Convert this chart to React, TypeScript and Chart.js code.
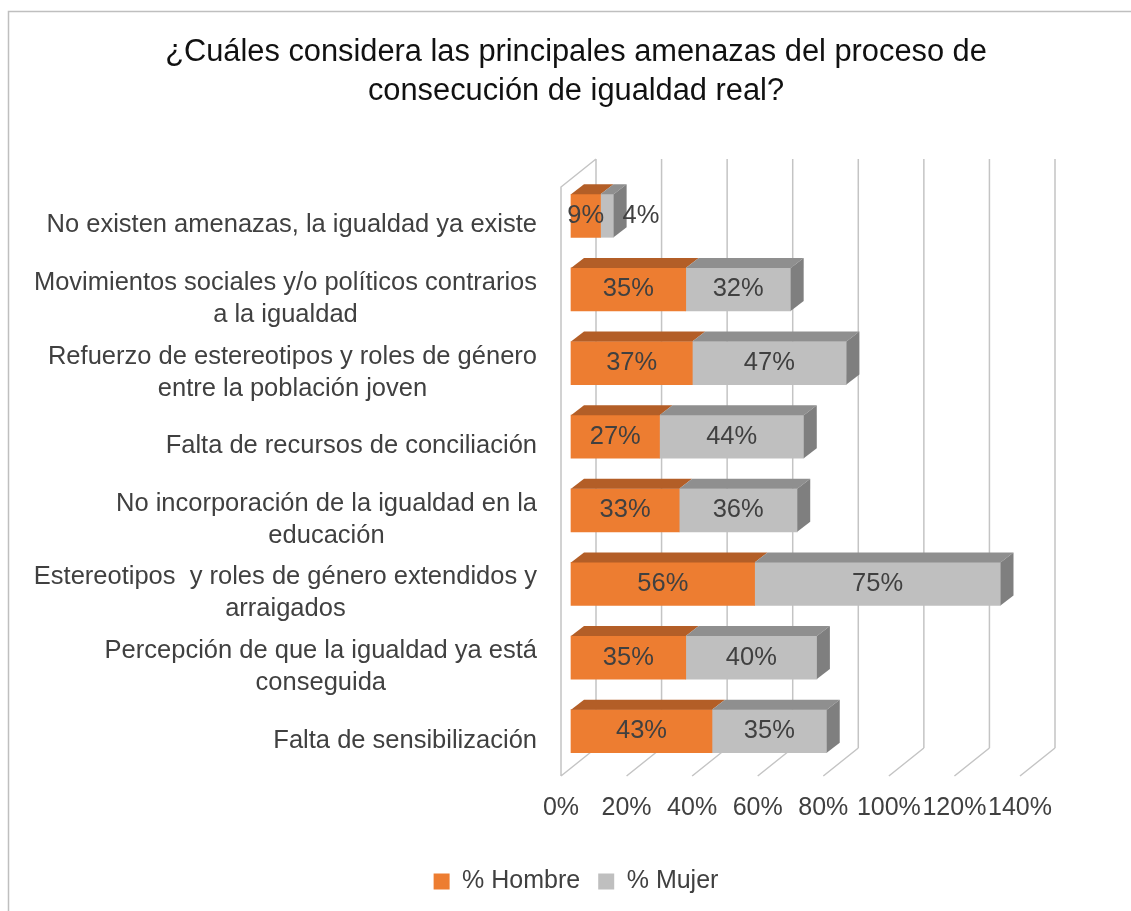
import React, { useEffect, useRef } from "react";
import { Chart, registerables } from "chart.js";

Chart.register(...registerables);

// ---- data ----
const TITLE_LINES = [
  "¿Cuáles considera las principales amenazas del proceso de",
  "consecución de igualdad real?",
];
const CATEGORIES: string[][] = [
  ["No existen amenazas, la igualdad ya existe"],
  ["Movimientos sociales y/o políticos contrarios", "a la igualdad"],
  ["Refuerzo de estereotipos y roles de género", "entre la población joven"],
  ["Falta de recursos de conciliación"],
  ["No incorporación de la igualdad en la", "educación"],
  ["Estereotipos  y roles de género extendidos y", "arraigados"],
  ["Percepción de que la igualdad ya está", "conseguida"],
  ["Falta de sensibilización"],
];
const HOMBRE = [9, 35, 37, 27, 33, 56, 35, 43];
const MUJER = [4, 32, 47, 44, 36, 75, 40, 35];
const SERIES_NAMES = ["% Hombre", "% Mujer"];
const X_MIN = 0;
const X_MAX = 140;
const X_STEP = 20;

// ---- styles ----
const FONT = "'Liberation Sans', Arial, sans-serif";
const TEXT = "#404040";
const FRONT = ["#ED7D31", "#BFBFBF"];
const TOPC = ["#B35E27", "#8F8F8F"];
const SIDE = ["#A9541F", "#7F7F7F"];
const WALL = { dx: 35, dy: -28 };
const BAR_OFF = { dx: 10, dy: -8 };
const DEPTH = { dx: 13, dy: -10 };

function poly(ctx: CanvasRenderingContext2D, pts: number[][], fill: string) {
  ctx.beginPath();
  ctx.moveTo(pts[0][0], pts[0][1]);
  for (let i = 1; i < pts.length; i++) ctx.lineTo(pts[i][0], pts[i][1]);
  ctx.closePath();
  ctx.fillStyle = fill;
  ctx.fill();
}

const threeD = {
  id: "threeD",
  beforeDraw(chart: any) {
    const ctx = chart.ctx;
    ctx.save();
    ctx.strokeStyle = "#BFBFBF";
    ctx.lineWidth = 1.5;
    ctx.beginPath();
    ctx.moveTo(8.5, chart.height);
    ctx.lineTo(8.5, 11.5);
    ctx.lineTo(chart.width, 11.5);
    ctx.stroke();
    ctx.restore();
  },
  beforeDatasetsDraw(chart: any) {
    const ctx = chart.ctx;
    const { top, bottom } = chart.chartArea;
    const x = chart.scales.x;
    ctx.save();
    ctx.strokeStyle = "#C4C4C4";
    ctx.lineWidth = 1.5;
    ctx.beginPath();
    x.ticks.forEach((t: any) => {
      const xf = x.getPixelForValue(t.value);
      const xb = xf + WALL.dx;
      ctx.moveTo(xb, top + WALL.dy);
      ctx.lineTo(xb, bottom + WALL.dy);
      ctx.moveTo(xf, bottom);
      ctx.lineTo(xb, bottom + WALL.dy);
    });
    const x0 = x.getPixelForValue(X_MIN);
    ctx.moveTo(x0, bottom);
    ctx.lineTo(x0, top);
    ctx.lineTo(x0 + WALL.dx, top + WALL.dy);
    ctx.stroke();
    ctx.restore();
    ctx.save();
    ctx.translate(BAR_OFF.dx, BAR_OFF.dy);
  },
  afterDatasetsDraw(chart: any) {
    const ctx = chart.ctx;
    ctx.restore();
    const metas = chart.data.datasets.map((_: any, i: number) => chart.getDatasetMeta(i));
    const last = metas.length - 1;
    const n = chart.data.labels.length;
    ctx.save();
    for (let i = 0; i < n; i++) {
      metas.forEach((meta: any, di: number) => {
        const el = meta.data[i];
        const p = el.getProps(["x", "y", "base", "height"], true);
        const l = Math.min(p.x, p.base) + BAR_OFF.dx;
        const r = Math.max(p.x, p.base) + BAR_OFF.dx;
        const t = p.y - p.height / 2 + BAR_OFF.dy;
        const b = t + p.height;
        poly(ctx, [[l, t], [r, t], [r + DEPTH.dx, t + DEPTH.dy], [l + DEPTH.dx, t + DEPTH.dy]], TOPC[di]);
        if (di === last) {
          poly(ctx, [[r, t], [r + DEPTH.dx, t + DEPTH.dy], [r + DEPTH.dx, b + DEPTH.dy], [r, b]], SIDE[di]);
        }
      });
    }
    // value labels
    ctx.font = `25.5px ${FONT}`;
    ctx.fillStyle = TEXT;
    ctx.textBaseline = "middle";
    for (let i = 0; i < n; i++) {
      metas.forEach((meta: any, di: number) => {
        const el = meta.data[i];
        const p = el.getProps(["x", "y", "base", "height"], true);
        const l = Math.min(p.x, p.base) + BAR_OFF.dx;
        const r = Math.max(p.x, p.base) + BAR_OFF.dx;
        const yc = p.y + BAR_OFF.dy;
        const txt = chart.data.datasets[di].data[i] + "%";
        const w = ctx.measureText(txt).width;
        if (di === last && w > r - l) {
          ctx.textAlign = "left";
          ctx.fillText(txt, r + 9, yc);
        } else {
          ctx.textAlign = "center";
          ctx.fillText(txt, (l + r) / 2, yc);
        }
      });
    }
    // category labels (right-aligned block, lines centred)
    const ys = chart.scales.y;
    const rightEdge = ys.right - 24;
    const lh = 32;
    chart.data.labels.forEach((lab: string[] | string, i: number) => {
      const lines = Array.isArray(lab) ? lab : [lab];
      const bw = Math.max(...lines.map((s) => ctx.measureText(s).width));
      const cx = rightEdge - bw / 2;
      const yc = ys.getPixelForValue(i) + 1.5;
      ctx.textAlign = "center";
      lines.forEach((s, j) => {
        ctx.fillText(s, cx, yc + (j - (lines.length - 1) / 2) * lh);
      });
    });
    ctx.restore();
  },
};

export default function App() {
  const ref = useRef<HTMLCanvasElement>(null);
  useEffect(() => {
    const canvas = ref.current;
    if (!canvas) return;
    Chart.defaults.font.family = FONT;
    const chart = new Chart(canvas, {
      type: "bar",
      data: {
        labels: CATEGORIES,
        datasets: [
          { label: SERIES_NAMES[0], data: HOMBRE, backgroundColor: FRONT[0], borderWidth: 0, barThickness: 43, clip: false } as any,
          { label: SERIES_NAMES[1], data: MUJER, backgroundColor: FRONT[1], borderWidth: 0, barThickness: 43, clip: false } as any,
        ],
      },
      options: {
        indexAxis: "y",
        responsive: false,
        animation: false,
        devicePixelRatio: 1,
        events: [],
        layout: { padding: { left: 21, right: 0, top: 0, bottom: 7 } },
        scales: {
          x: {
            type: "linear",
            stacked: true,
            min: X_MIN,
            max: X_MAX,
            position: "bottom",
            grid: { display: false, drawTicks: false },
            border: { display: false },
            ticks: {
              stepSize: X_STEP,
              autoSkip: false,
              maxRotation: 0,
              minRotation: 0,
              padding: 17,
              color: TEXT,
              font: { size: 25 },
              callback: (v: any) => v + "%",
            },
            afterFit: (s: any) => {
              s.height = 75;
            },
          },
          y: {
            type: "category",
            stacked: true,
            position: "left",
            grid: { display: false },
            border: { display: false },
            ticks: { display: false },
            afterFit: (s: any) => {
              s.width = 540;
            },
          },
          yR: {
            type: "linear",
            position: "right",
            display: true,
            grid: { display: false, drawTicks: false },
            border: { display: false },
            ticks: { display: false },
            afterFit: (s: any) => {
              s.width = 111;
            },
          },
        } as any,
        plugins: {
          title: {
            display: true,
            text: TITLE_LINES,
            color: "#111111",
            font: { size: 30.8, weight: "normal", lineHeight: 1.266 },
            padding: { top: 33.5, bottom: 75.5 },
          },
          legend: {
            position: "bottom",
            labels: {
              boxWidth: 16,
              boxHeight: 16,
              padding: 18,
              color: TEXT,
              font: { size: 25 },
            },
          },
          tooltip: { enabled: false },
        },
      },
      plugins: [threeD],
    });
    return () => chart.destroy();
  }, []);
  return (
    <div style={{ position: "absolute", left: 0, top: 0, width: 1131, height: 911, overflow: "hidden", background: "#fff" }}>
      <canvas ref={ref} width={1131} height={911} style={{ display: "block" }} />
    </div>
  );
}
